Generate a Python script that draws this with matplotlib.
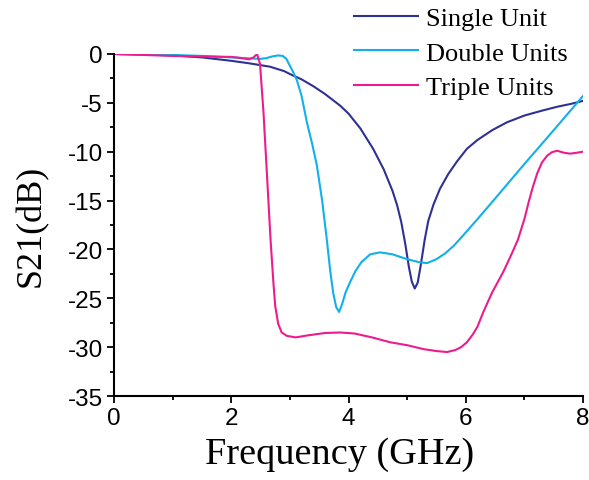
import matplotlib.pyplot as plt
from matplotlib.ticker import MultipleLocator

# frequency (GHz) / S21 (dB)
f_single = [0.0, 0.5, 1.0, 1.5, 2.0, 2.3, 2.66, 2.9, 3.0, 3.2, 3.4, 3.6, 3.86, 4.0, 4.2, 4.42, 4.6, 4.75,
            4.83, 4.9, 4.97, 5.03, 5.08, 5.13, 5.18, 5.23, 5.3, 5.36, 5.45, 5.56, 5.7, 5.85, 6.02, 6.2, 6.45,
            6.7, 7.0, 7.3, 7.56, 7.8, 8.0]
s_single = [0.0, -0.05, -0.15, -0.35, -0.7, -0.95, -1.3, -1.75, -2.05, -2.6, -3.3, -4.1, -5.3, -6.1, -7.6,
            -9.7, -11.8, -14.0, -15.5, -17.2, -19.5, -21.8, -23.3, -24.0, -23.4, -21.7, -19.0, -17.1, -15.4,
            -13.8, -12.3, -11.0, -9.7, -8.8, -7.8, -7.0, -6.3, -5.8, -5.4, -5.1, -4.8]

f_double = [0.0, 0.5, 1.0, 1.5, 2.0, 2.3, 2.5, 2.6, 2.7, 2.8, 2.88, 2.94, 3.0, 3.06, 3.12, 3.2, 3.29, 3.38,
            3.46, 3.55, 3.63, 3.69, 3.74, 3.79, 3.84, 3.89, 3.95, 4.03, 4.12, 4.22, 4.37, 4.54, 4.75, 5.0, 5.2,
            5.34, 5.5, 5.65, 5.8, 5.95, 6.2, 6.5, 6.98, 7.5, 8.0]
s_double = [0.0, -0.05, -0.1, -0.2, -0.35, -0.45, -0.5, -0.42, -0.25, -0.15, -0.2, -0.5, -1.2, -1.9, -2.7,
            -4.3, -7.0, -9.2, -11.4, -15.0, -19.0, -22.3, -24.5, -25.9, -26.4, -25.6, -24.4, -23.3, -22.2,
            -21.3, -20.5, -20.3, -20.5, -21.0, -21.3, -21.4, -21.0, -20.4, -19.6, -18.6, -16.9, -14.8, -11.4,
            -7.8, -4.3]

f_triple = [0.0, 0.5, 1.0, 1.5, 2.0, 2.15, 2.3, 2.38, 2.44, 2.49, 2.55, 2.6, 2.67, 2.72, 2.75, 2.8, 2.86,
            2.95, 3.1, 3.3, 3.6, 3.86, 4.1, 4.4, 4.71, 5.0, 5.28, 5.5, 5.68, 5.82, 5.92, 6.02, 6.12, 6.2, 6.3,
            6.45, 6.64, 6.78, 6.89, 7.0, 7.08, 7.15, 7.22, 7.3, 7.39, 7.47, 7.56, 7.67, 7.78, 7.9, 8.0]
s_triple = [0.0, -0.1, -0.2, -0.25, -0.3, -0.4, -0.55, -0.35, 0.0, -1.0, -6.0, -11.4, -19.0, -23.5, -25.8,
            -27.6, -28.5, -28.85, -29.0, -28.8, -28.55, -28.5, -28.6, -29.0, -29.5, -29.8, -30.2, -30.4,
            -30.5, -30.3, -30.0, -29.5, -28.7, -27.9, -26.4, -24.4, -22.3, -20.5, -19.0, -16.9, -15.0, -13.5,
            -12.2, -11.1, -10.4, -10.05, -9.9, -10.1, -10.2, -10.1, -10.0]

plt.rcParams['font.family'] = 'Liberation Sans'
plt.rcParams['axes.unicode_minus'] = False

fig = plt.figure(figsize=(5.89, 4.81), dpi=100)
ax = fig.add_axes([0.1936, 0.1746, 0.7962, 0.7111])

ax.plot(f_single, s_single, color='#2E3192', lw=1.5, label='Single Unit')
ax.plot(f_double, s_double, color='#12B0EA', lw=1.5, label='Double Units')
ax.plot(f_triple, s_triple, color='#EC1C8C', lw=1.5, label='Triple Units')

ax.set_xlim(0, 8)
ax.set_ylim(-35, 0)
ax.xaxis.set_major_locator(MultipleLocator(2))
ax.xaxis.set_minor_locator(MultipleLocator(1))
ax.yaxis.set_major_locator(MultipleLocator(5))
ax.yaxis.set_minor_locator(MultipleLocator(2.5))

for s in ['top', 'right']:
    ax.spines[s].set_visible(False)
for s in ['left', 'bottom']:
    ax.spines[s].set_linewidth(1.5)
ax.tick_params(which='major', length=5, width=1.3, labelsize=17.5, pad=3)
ax.tick_params(which='minor', length=3, width=1.3)
ax.tick_params(axis='x', which='major', pad=3)

ax.set_xlabel('Frequency (GHz)', family='Liberation Serif', fontsize=27.5, labelpad=5)
ax.xaxis.label.set_x(0.48)
ax.set_ylabel('S21(dB)', family='Liberation Serif', fontsize=26, labelpad=14)

leg = ax.legend(loc='upper right', bbox_to_anchor=(0.99, 1.017), bbox_transform=fig.transFigure,
                frameon=False, prop={'family': 'Liberation Serif', 'size': 19},
                handlelength=2.4, handletextpad=0.3, labelspacing=0.42, borderpad=0.1)

fig.savefig('out.png', dpi=100)
